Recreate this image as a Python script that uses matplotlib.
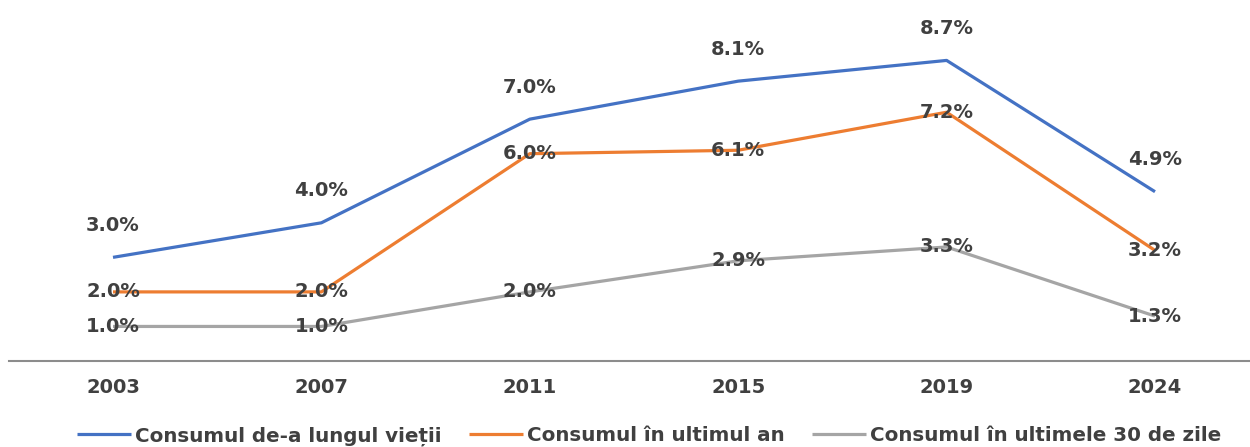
import matplotlib.pyplot as plt

# Survey years and series values (%)
years = ["2003", "2007", "2011", "2015", "2019", "2024"]
lifetime = [3.0, 4.0, 7.0, 8.1, 8.7, 4.9]
last_year = [2.0, 2.0, 6.0, 6.1, 7.2, 3.2]
last_30_days = [1.0, 1.0, 2.0, 2.9, 3.3, 1.3]

names = [
    "Consumul de-a lungul vieții",
    "Consumul în ultimul an",
    "Consumul în ultimele 30 de zile",
]
colors = ["#4472C4", "#ED7D31", "#A5A5A5"]
txt = "#404040"

plt.rcParams["font.family"] = ["DejaVu Sans"]
plt.rcParams["font.weight"] = "bold"

fig = plt.figure(figsize=(12.5, 4.47), dpi=100)
ax = fig.add_axes([8.8 / 1250, 86 / 447, 1250.4 / 1250, 345.5 / 447])

x = list(range(len(years)))
series = [lifetime, last_year, last_30_days]
for vals, name, col in zip(series, names, colors):
    ax.plot(x, vals, color=col, linewidth=2.3, label=name, solid_capstyle="butt", zorder=2)

# labels: blue sits above the point, the others sit on it
for i, v in enumerate(lifetime):
    ax.annotate(f"{v:.1f}%", (i, v), xytext=(0, 23), textcoords="offset points",
                ha="center", va="center", fontsize=14, color=txt, fontweight="bold", zorder=3)
for vals in (last_year, last_30_days):
    for i, v in enumerate(vals):
        ax.text(i, v, f"{v:.1f}%", ha="center", va="center", fontsize=14,
                color=txt, fontweight="bold", zorder=3)

ax.set_xlim(-0.5, len(years) - 0.5)
ax.set_ylim(0, 10)
ax.set_xticks(x)
ax.set_xticklabels(years, fontsize=14, color=txt, fontweight="bold")
ax.set_yticks([])
ax.tick_params(axis="x", length=0, pad=12.5)
for s in ["top", "right", "left"]:
    ax.spines[s].set_visible(False)
ax.spines["bottom"].set_color("#8c8c8c")
ax.spines["bottom"].set_linewidth(1.5)

fig.legend(loc="center", bbox_to_anchor=(649 / 1250, 11 / 447), ncol=3, frameon=False,
           fontsize=14.3, handlelength=2.7, handletextpad=0.2, columnspacing=1.4,
           labelcolor=txt)

fig.savefig("out.png", dpi=100)
